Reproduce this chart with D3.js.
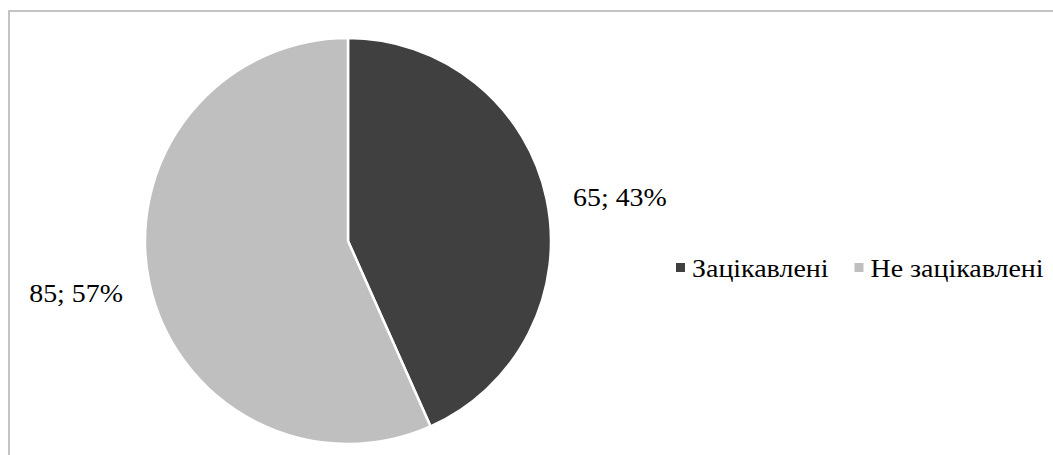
<!DOCTYPE html>
<html>
<head>
<meta charset="utf-8">
<script src="https://cdn.jsdelivr.net/npm/d3@7"></script>
<style>
  html, body { margin: 0; padding: 0; background: #fff; }
  svg { display: block; }
  text { font-family: "Liberation Serif", "Times New Roman", serif; fill: #000; }
</style>
</head>
<body>
<svg id="chart" width="1053" height="455"></svg>
<script>
// Survey result: interested vs. not interested
const categories = ["Зацікавлені", "Не зацікавлені"];
const counts = [65, 85];
const percents = [43, 57];
const colors = ["#404040", "#bfbfbf"];

const W = 1053, H = 455;
const svg = d3.select("#chart");

// chart area frame (open on the right and bottom edges)
svg.append("rect")
  .attr("x", 9).attr("y", 11)
  .attr("width", W + 20).attr("height", H + 20)
  .attr("fill", "none")
  .attr("stroke", "#c4c4c4")
  .attr("stroke-width", 2);

const cx = 348, cy = 241, r = 203;
const fontSize = 24.5, stretch = 1.14;

const data = categories.map((c, i) => ({ name: c, value: counts[i], pct: percents[i], color: colors[i] }));

const pie = d3.pie().value(d => d.value).sort(null);
const arc = d3.arc().innerRadius(0).outerRadius(r);
const arcs = pie(data);

const g = svg.append("g").attr("transform", `translate(${cx},${cy})`);
g.selectAll("path.slice")
  .data(arcs)
  .join("path")
  .attr("class", "slice")
  .attr("d", arc)
  .attr("fill", d => d.data.color)
  .attr("stroke", "#fff")
  .attr("stroke-width", 2.5)
  .attr("stroke-linejoin", "round");

// data labels just outside each slice, anchored on the side facing the pie
const labelR = r + 27;
g.selectAll("text.lbl")
  .data(arcs)
  .join("text")
  .attr("class", "lbl")
  .attr("font-size", fontSize)
  .attr("text-anchor", d => ((d.startAngle + d.endAngle) / 2 < Math.PI ? "start" : "end"))
  .attr("transform", d => {
    const a = (d.startAngle + d.endAngle) / 2;
    const x = Math.sin(a) * labelR, y = -Math.cos(a) * labelR;
    return `translate(${x},${y + 13}) scale(${stretch},1)`;
  })
  .text(d => `${d.data.value}; ${d.data.pct}%`);

// legend
const legend = svg.append("g").attr("transform", "translate(676,277)");
let offset = 0;
data.forEach(d => {
  const item = legend.append("g").attr("transform", `translate(${offset},0)`);
  item.append("rect")
    .attr("x", 0).attr("y", -14)
    .attr("width", 9).attr("height", 9)
    .attr("fill", d.color);
  const t = item.append("text")
    .attr("font-size", fontSize)
    .attr("transform", `translate(16,0) scale(${stretch},1)`)
    .text(d.name);
  const w = t.node().getComputedTextLength() * stretch;
  offset += 16 + w + 26;
});
</script>
</body>
</html>
